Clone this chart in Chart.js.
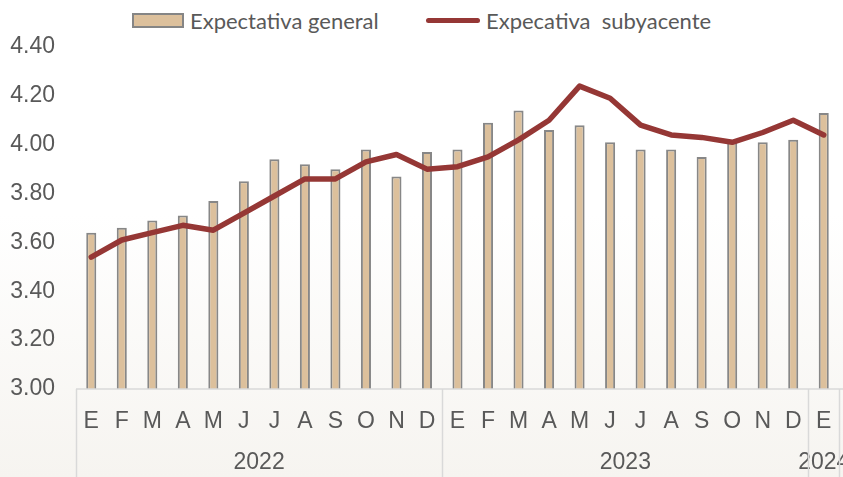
<!DOCTYPE html>
<html lang="es">
<head>
<meta charset="UTF-8">
<script src="https://cdn.jsdelivr.net/npm/chart.js@4.4.1/dist/chart.umd.min.js"></script>
<title>Expectativas</title>
<style>
    html, body { margin: 0; padding: 0; }
    body {
        width: 843px; height: 477px; position: relative; overflow: hidden;
        background: linear-gradient(#ffffff 0%, #ffffff 45%, #f6f4f0 100%);
    }
    #wrap { position: absolute; left: 0; top: 0; width: 843px; height: 477px; }
    .legend { position: absolute; top: 4px; font-family: Lato, "Open Sans", sans-serif; font-size: 22px; color: #595959; white-space: pre; }
    .legend span { display: inline-block; vertical-align: middle; }
    .boxBar { width: 48px; height: 11px; background: #dcc09c; border: 2px solid #858585; margin-right: 6px; }
    .boxLine { width: 54px; height: 5px; border-radius: 3px; background: #953735; margin-right: 6px; }
</style>
</head>
<body>
<div class="legend" style="left:132px"><span class="boxBar"></span><span>Expectativa general</span></div>
<div class="legend" style="left:426px"><span class="boxLine"></span><span>Expecativa  subyacente</span></div>
<div id="wrap"><canvas id="chart1" width="843" height="477"></canvas></div>

<script>
    const months = ['E', 'F', 'M', 'A', 'M', 'J', 'J', 'A', 'S', 'O', 'N', 'D',
        'E', 'F', 'M', 'A', 'M', 'J', 'J', 'A', 'S', 'O', 'N', 'D', 'E'];
    const years = ['2022', '2023', '2024'];
    const monthsPerYear = [12, 12, 1];
    const general = [3.64, 3.66, 3.69, 3.71, 3.77, 3.85, 3.94, 3.92, 3.90, 3.98, 3.87, 3.97,
        3.98, 4.09, 4.14, 4.06, 4.08, 4.01, 3.98, 3.98, 3.95, 4.01, 4.01, 4.02, 4.13];
    const subyacente = [3.54, 3.61, 3.64, 3.67, 3.65, 3.72, 3.79, 3.86, 3.86, 3.93, 3.96, 3.90,
        3.91, 3.95, 4.02, 4.10, 4.24, 4.19, 4.08, 4.04, 4.03, 4.01, 4.05, 4.10, 4.04];

    // year group edges and centres (in category index units)
    const edges = [-0.5];
    const centres = [];
    monthsPerYear.forEach(n => {
        const start = edges[edges.length - 1];
        centres.push(start + n / 2);
        edges.push(start + n);
    });

    const axisFont = { family: '"Liberation Sans", Arial, sans-serif', size: 23 };
    const grey = '#595959';

    // light grey boxes under the months/years
    const boxLines = {
        id: 'boxLines',
        afterDraw(chart) {
            const ctx = chart.ctx;
            const x = chart.scales.x2;
            const bottom = chart.chartArea.bottom;
            ctx.save();
            ctx.strokeStyle = '#d9d9d9';
            ctx.lineWidth = 1.5;
            ctx.beginPath();
            ctx.moveTo(x.getPixelForValue(edges[0]), bottom);
            ctx.lineTo(chart.width, bottom);
            edges.forEach(e => {
                const px = Math.round(x.getPixelForValue(e)) + 0.5;
                ctx.moveTo(px, bottom);
                ctx.lineTo(px, chart.height);
            });
            ctx.stroke();
            ctx.restore();
        }
    };

    const ctx1 = document.getElementById('chart1').getContext('2d');
    const myChart = new Chart(ctx1, {
        type: 'bar',
        data: {
            labels: months,
            datasets: [{
                type: 'line',
                label: 'Expecativa  subyacente',
                data: subyacente,
                borderColor: '#953735',
                backgroundColor: '#953735',
                borderWidth: 5.5,
                pointRadius: 0,
                tension: 0,
                borderCapStyle: 'round',
                borderJoinStyle: 'round',
                order: 0
            }, {
                label: 'Expectativa general',
                data: general,
                backgroundColor: '#dcc09c',
                borderColor: '#878787',
                borderWidth: 2,
                barPercentage: 0.33,
                categoryPercentage: 1,
                order: 1
            }]
        },
        options: {
            responsive: false,
            animation: false,
            layout: { padding: { top: 47, left: 6, right: 4, bottom: 0 } },
            plugins: {
                legend: { display: false },
                tooltip: { enabled: false }
            },
            scales: {
                y: {
                    min: 3,
                    max: 4.4,
                    ticks: {
                        stepSize: 0.2,
                        font: axisFont,
                        color: grey,
                        padding: 21,
                        callback: v => v.toFixed(2)
                    },
                    grid: { display: false, drawTicks: false },
                    border: { display: false },
                    afterFit: s => { s.width = 70; }
                },
                x: {
                    ticks: { font: axisFont, color: grey, padding: 19, autoSkip: false, maxRotation: 0 },
                    grid: { display: false, drawTicks: false },
                    border: { display: false },
                    afterFit: s => { s.height = 50; s.paddingLeft = 0; s.paddingRight = 0; }
                },
                x2: {
                    type: 'linear',
                    position: 'bottom',
                    offset: false,
                    bounds: 'data',
                    min: edges[0],
                    max: edges[edges.length - 1],
                    afterBuildTicks: s => { s.ticks = centres.map(c => ({ value: c })); },
                    ticks: {
                        font: axisFont,
                        color: grey,
                        padding: 10,
                        autoSkip: false,
                        maxRotation: 0,
                        callback: (v, i) => years[i]
                    },
                    grid: { display: false, drawTicks: false, offset: false },
                    border: { display: false },
                    afterFit: s => { s.height = 38; s.paddingLeft = 0; s.paddingRight = 0; }
                }
            }
        },
        plugins: [boxLines]
    });
</script>
</body>
</html>
